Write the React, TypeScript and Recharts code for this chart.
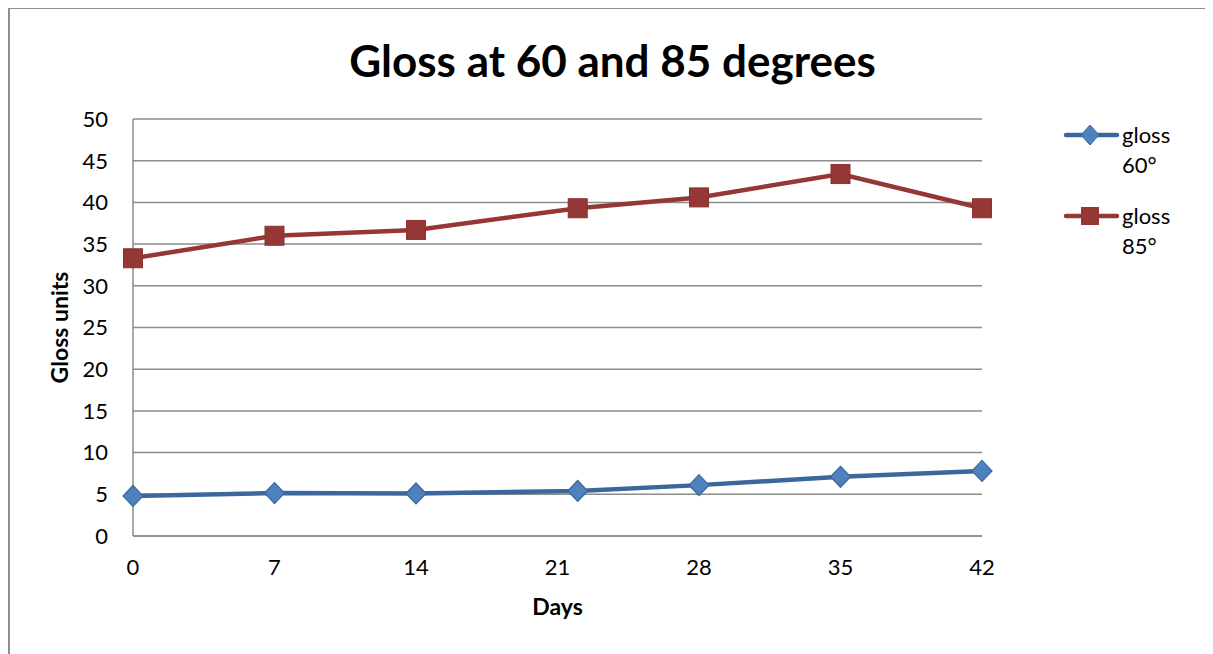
import React from 'react';
import { LineChart, Line, XAxis, YAxis, CartesianGrid } from 'recharts';

const days = [0, 7, 14, 22, 28, 35, 42];
const gloss60 = [4.8, 5.15, 5.1, 5.4, 6.1, 7.1, 7.8];
const gloss85 = [33.3, 36.0, 36.7, 39.3, 40.6, 43.4, 39.3];
const dayTicks = [0, 7, 14, 21, 28, 35, 42];
const glossTicks = [0, 5, 10, 15, 20, 25, 30, 35, 40, 45, 50];

const data = days.map((d, i) => ({ day: d, g60: gloss60[i], g85: gloss85[i] }));

const FONT = 'Lato, "Open Sans", sans-serif';
const BLUE_LINE = '#3C679C';
const BLUE_FILL = '#4F81BD';
const RED = '#953735';
const GRID = '#8c8c8c';

const Diamond = (props: any) => {
  const { cx, cy, index } = props;
  return (
    <path
      key={`dia-${index}`}
      d={`M${cx},${cy - 10.5}L${cx + 10},${cy}L${cx},${cy + 10.5}L${cx - 10},${cy}Z`}
      fill={BLUE_FILL}
      stroke={BLUE_LINE}
      strokeWidth={1.2}
    />
  );
};

const Square = (props: any) => {
  const { cx, cy, index } = props;
  return (
    <rect
      key={`sq-${index}`}
      x={cx - 9.5}
      y={cy - 9.5}
      width={19}
      height={19}
      fill={RED}
      stroke="#8a3230"
      strokeWidth={1}
    />
  );
};

const LegendItem = ({ color, marker, lines, top }: any) => (
  <div style={{ position: 'absolute', left: 1054, top, display: 'flex', alignItems: 'flex-start' }}>
    <svg width={60} height={30} style={{ display: 'block' }}>
      <line x1={4} y1={15} x2={55} y2={15} stroke={color} strokeWidth={4.5} strokeLinecap="round" />
      {marker === 'diamond' ? (
        <path d="M28,5L37,15L28,25L19,15Z" fill={BLUE_FILL} stroke={BLUE_LINE} strokeWidth={1} />
      ) : (
        <rect x={19} y={6} width={18} height={18} fill={RED} />
      )}
    </svg>
    <div style={{ fontFamily: FONT, fontSize: 22, lineHeight: '30px', color: '#000', marginLeft: 0 }}>
      {lines.map((l: string) => (
        <div key={l}>{l}</div>
      ))}
    </div>
  </div>
);

export default function App() {
  return (
    <div style={{ position: 'relative', width: 1205, height: 646 }}>
      <div
        style={{
          position: 'absolute',
          left: 0,
          top: -1,
          width: 1210,
          height: 650,
          borderTop: '2px solid #8f8f8f',
          borderLeft: '2px solid #8f8f8f',
          boxSizing: 'border-box',
        }}
      />
      <div
        style={{
          position: 'absolute',
          left: 0,
          width: 1209,
          top: 26,
          textAlign: 'center',
          fontFamily: FONT,
          fontWeight: 700,
          fontSize: 44,
          lineHeight: '52px',
          color: '#000',
        }}
      >
        Gloss at 60 and 85 degrees
      </div>
      <LineChart
        width={1205}
        height={646}
        data={data}
        margin={{ top: 111, right: 231, bottom: 58, left: 0 }}
        style={{ position: 'absolute', left: 0, top: 0 }}
      >
        <CartesianGrid vertical={false} stroke={GRID} strokeWidth={1.5} />
        <XAxis
          dataKey="day"
          type="number"
          domain={[0, 42]}
          ticks={dayTicks}
          height={60}
          tickLine={false}
          tickSize={0}
          tickMargin={23}
          axisLine={{ stroke: GRID, strokeWidth: 1.5 }}
          tick={{ fill: '#000', fontSize: 22, fontFamily: FONT }}
          label={{
            value: 'Days',
            position: 'bottom',
            offset: 3,
            fill: '#000',
            fontSize: 23,
            fontWeight: 700,
            fontFamily: FONT,
          }}
        />
        <YAxis
          type="number"
          domain={[0, 50]}
          ticks={glossTicks}
          width={125}
          tickLine={false}
          tickSize={0}
          tickMargin={25}
          axisLine={{ stroke: GRID, strokeWidth: 1.5 }}
          tick={{ fill: '#000', fontSize: 22, fontFamily: FONT }}
          label={{
            value: 'Gloss units',
            angle: -90,
            position: 'center',
            dx: -11,
            fill: '#000',
            fontSize: 23,
            fontWeight: 700,
            fontFamily: FONT,
          }}
        />
        <Line
          dataKey="g60"
          stroke={BLUE_LINE}
          strokeWidth={4.5}
          dot={Diamond}
          activeDot={false}
          isAnimationActive={false}
        />
        <Line
          dataKey="g85"
          stroke={RED}
          strokeWidth={4.5}
          dot={Square}
          activeDot={false}
          isAnimationActive={false}
        />
      </LineChart>
      <LegendItem color={BLUE_LINE} marker="diamond" lines={['gloss', '60°']} top={112} />
      <LegendItem color={RED} marker="square" lines={['gloss', '85°']} top={193} />
    </div>
  );
}
